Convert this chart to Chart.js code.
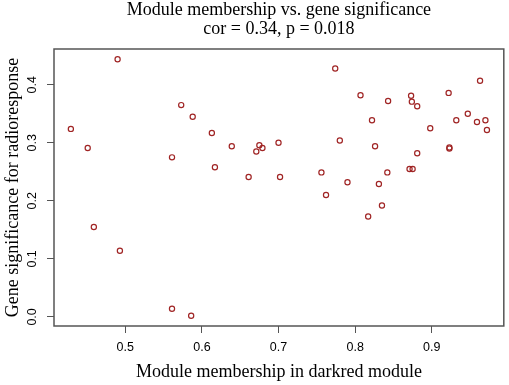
<!DOCTYPE html>
<html>
<head>
<meta charset="utf-8">
<script src="https://cdn.jsdelivr.net/npm/chart.js@4/dist/chart.umd.min.js"></script>
<style>
  body { margin: 0; background: #fff; }
  canvas { display: block; }
</style>
</head>
<body>
<canvas id="mm-gs-scatter" width="509" height="385"></canvas>
<script>
(function () {
    "use strict";

    // Module membership (x) and gene significance (y)
    const moduleMembership = [
        0.490, 0.429, 0.451, 0.573, 0.588, 0.613, 0.561, 0.617,
        0.774, 0.807, 0.639, 0.675, 0.679, 0.671, 0.700, 0.780,
        0.661, 0.702, 0.756, 0.790, 0.762, 0.843, 0.873, 0.874,
        0.881, 0.922, 0.963, 0.822, 0.947, 0.932, 0.959, 0.970,
        0.972, 0.898, 0.826, 0.923, 0.923, 0.881, 0.871, 0.875,
        0.842, 0.831, 0.835, 0.817, 0.459, 0.493, 0.561, 0.586,
    ];
    const geneSignificance = [
        0.444, 0.324, 0.291, 0.365, 0.345, 0.317, 0.275, 0.258,
        0.428, 0.382, 0.294, 0.296, 0.291, 0.285, 0.300, 0.304,
        0.241, 0.241, 0.249, 0.232, 0.210, 0.372, 0.381, 0.371,
        0.363, 0.386, 0.407, 0.339, 0.350, 0.339, 0.336, 0.339,
        0.322, 0.325, 0.294, 0.292, 0.290, 0.282, 0.255, 0.255,
        0.249, 0.229, 0.192, 0.173, 0.155, 0.114, 0.014, 0.002,
    ];
    const titleLines = [
        "Module membership vs. gene significance",
        "cor = 0.34, p = 0.018",
    ];
    const xLabel = "Module membership in darkred module";
    const yLabel = "Gene significance for radioresponse";

    const serif = "'Liberation Serif', 'DejaVu Serif', serif";
    const sans = "'Liberation Sans', Arial, sans-serif";
    const axisGrey = "#555";

    // R-style box round the plot, vertical y tick labels and a title
    // centred over the plot region rather than the canvas
    const frame = {
        id: "frame",
        afterDraw(chart) {
            const { ctx, chartArea: a, scales } = chart;
            const y = scales.y;
            ctx.save();
            ctx.strokeStyle = axisGrey;
            ctx.lineWidth = 1.5;
            ctx.strokeRect(a.left, a.top, a.right - a.left, a.bottom - a.top);

            ctx.fillStyle = "#000";
            ctx.textAlign = "center";
            ctx.textBaseline = "middle";
            ctx.font = "12.5px " + sans;
            y.ticks.forEach((t) => {
                ctx.save();
                ctx.translate(a.left - 21, y.getPixelForValue(t.value));
                ctx.rotate(-Math.PI / 2);
                ctx.fillText(t.value.toFixed(1), 0, 0);
                ctx.restore();
            });

            ctx.font = "18px " + serif;
            const cx = (a.left + a.right) / 2;
            titleLines.forEach((line, i) => {
                ctx.fillText(line, cx, 10.5 + i * 19);
            });
            ctx.restore();
        },
    };

    new Chart(document.getElementById("mm-gs-scatter"), {
        type: "scatter",
        data: {
            datasets: [
                {
                    data: moduleMembership.map((x, i) => ({ x: x, y: geneSignificance[i] })),
                    pointStyle: "circle",
                    pointRadius: 2.6,
                    pointBorderWidth: 1.2,
                    pointBorderColor: "#a02525",
                    pointBackgroundColor: "transparent",
                },
            ],
        },
        options: {
            responsive: false,
            animation: false,
            layout: { padding: { left: 0, right: 4, top: 49, bottom: 0 } },
            plugins: {
                legend: { display: false },
                tooltip: { enabled: false },
                title: { display: false },
            },
            scales: {
                x: {
                    type: "linear",
                    min: 0.407,
                    max: 0.994,
                    afterFit: (scale) => { scale.height = 59; },
                    ticks: {
                        stepSize: 0.1,
                        includeBounds: false,
                        color: "#000",
                        font: { family: sans, size: 12.5 },
                        padding: 7,
                        maxRotation: 0,
                        callback: (v) => v.toFixed(1),
                    },
                    grid: {
                        drawOnChartArea: false,
                        drawTicks: true,
                        tickLength: 7,
                        color: axisGrey,
                    },
                    border: { display: false },
                    title: {
                        display: true,
                        text: xLabel,
                        color: "#000",
                        font: { family: serif, size: 18 },
                        padding: { top: 0, bottom: 2 },
                    },
                },
                y: {
                    type: "linear",
                    min: -0.0157,
                    max: 0.4617,
                    afterFit: (scale) => { scale.width = 54; },
                    ticks: {
                        stepSize: 0.1,
                        includeBounds: false,
                        display: false,
                    },
                    grid: {
                        drawOnChartArea: false,
                        drawTicks: true,
                        tickLength: 7,
                        color: axisGrey,
                    },
                    border: { display: false },
                    title: {
                        display: true,
                        text: yLabel,
                        color: "#000",
                        font: { family: serif, size: 18 },
                        padding: { top: 2, bottom: 0 },
                    },
                },
            },
        },
        plugins: [frame],
    });
})();
</script>
</body>
</html>
